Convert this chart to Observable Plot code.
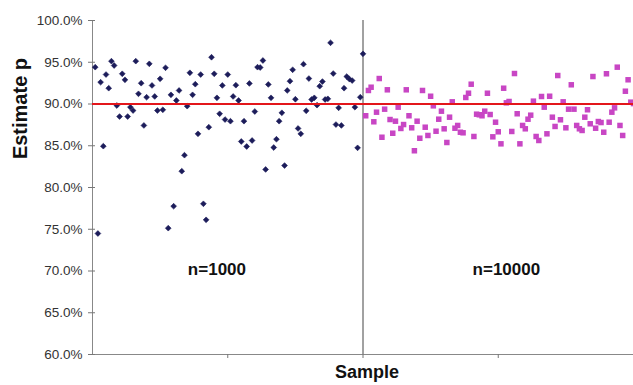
<!DOCTYPE html>
<html><head><meta charset="utf-8">
<script src="https://cdn.jsdelivr.net/npm/d3@7"></script>
<script src="https://cdn.jsdelivr.net/npm/@observablehq/plot@0.6"></script>
<style>body{margin:0;background:#fff}</style>
</head><body><div id="chart"></div>
<script>
const n1000 = [
94.41, 74.49, 92.61, 84.95, 93.53, 91.89, 95.13, 94.61, 89.82, 88.50,
93.62, 92.90, 88.50, 89.62, 89.22, 95.13, 91.22, 92.49, 87.43, 90.81,
94.81, 92.22, 90.90, 89.22, 93.02, 89.31, 94.34, 75.13, 91.10, 77.76,
90.42, 91.62, 81.95, 83.87, 89.74, 93.74, 91.10, 92.37, 86.43, 93.53,
78.05, 76.13, 87.22, 95.60, 93.62, 90.74, 88.83, 92.22, 88.14, 93.53,
87.94, 90.90, 92.25, 90.42, 85.51, 87.94, 84.91, 92.46, 85.63, 89.10,
94.41, 94.37, 95.21, 82.16, 92.34, 90.74, 84.79, 85.78, 87.94, 88.95,
82.63, 91.62, 92.73, 94.10, 90.57, 87.07, 86.43, 94.77, 89.19, 93.05,
90.54, 90.74, 89.86, 92.13, 92.69, 90.54, 90.62, 97.33, 93.65, 87.54,
89.54, 87.43, 91.89, 93.29, 92.97, 92.81, 89.62, 84.75, 90.81, 96.01];
const n10000 = [
88.59, 91.62, 92.01, 87.87, 89.02, 93.05, 86.02, 89.38, 91.70, 88.14,
86.50, 87.94, 89.62, 87.07, 87.54, 91.70, 88.59, 87.15, 84.40, 87.94,
85.90, 91.62, 87.22, 86.23, 90.93, 89.78, 86.74, 88.18, 89.14, 87.03,
85.39, 88.42, 90.26, 87.10, 87.43, 86.62, 86.55, 90.78, 91.29, 92.37,
86.11, 88.78, 88.71, 88.59, 89.14, 91.29, 88.74, 86.07, 87.82, 86.67,
85.23, 91.89, 90.14, 90.30, 86.71, 93.65, 88.83, 85.23, 87.43, 87.03,
88.18, 88.66, 90.34, 86.11, 85.63, 90.90, 89.62, 86.43, 90.93, 88.42,
87.31, 93.41, 88.11, 90.26, 87.15, 89.38, 92.30, 89.38, 87.43, 87.03,
86.83, 88.42, 89.31, 87.63, 93.29, 87.10, 87.90, 87.78, 86.62, 93.62,
87.82, 89.02, 89.54, 94.41, 87.43, 86.23, 91.53, 92.90, 90.22, 90.05];
const trueP = 90;
const splitSample = 100;
const yTicks = [60, 65, 70, 75, 80, 85, 90, 95, 100];
const xTicks = [50, 100, 150, 200];
const groupLabels = ["n=1000", "n=10000"];
const xLabel = "Sample";
const yLabel = "Estimate p";

const font = "'Liberation Sans', Arial, sans-serif";
const chart = Plot.plot({
  width: 633, height: 385,
  marginLeft: 92, marginRight: 0, marginTop: 20, marginBottom: 31,
  x: {domain: [0, 200]},
  y: {domain: [60, 100]},
  style: {fontFamily: font, background: "#fff", overflow: "visible"},
  marks: [
    Plot.ruleX([0], {stroke: "#888"}),
    Plot.ruleY([60], {stroke: "#888"}),
    Plot.ruleX([splitSample], {stroke: "#444"}),
    Plot.axisY(yTicks, {tickSize: 7, dx: 3, tickPadding: 6, tickFormat: d => d.toFixed(1) + "%",
      fontSize: 13.5, color: "#333", stroke: "#777", label: null}),
    Plot.axisX(xTicks, {tickSize: 4, tickFormat: () => "", stroke: "#777", label: null}),
    Plot.dot(n1000, {x: (d, i) => i + 1, y: d => d, symbol: "diamond2", r: 2.6, fill: "#1c1c5a", stroke: "#1c1c5a", strokeWidth: 0.6}),
    Plot.dot(n10000, {x: (d, i) => i + 101, y: d => d, symbol: "square", r: 3.1, fill: "#c846c4", stroke: "none"}),
    Plot.ruleY([trueP], {stroke: "#e3161b", strokeWidth: 2}),
    Plot.text(groupLabels, {x: (d, i) => i === 0 ? 46 : 153, y: 70.2, text: d => d,
      fontWeight: "bold", fontSize: 17, fill: "#111"}),
    Plot.text([xLabel], {frameAnchor: "bottom", dy: 23.5, dx: 4, text: d => d,
      fontWeight: "bold", fontSize: 18, fill: "#111"}),
    Plot.text([yLabel], {frameAnchor: "left", y: 83.4, dx: -72, rotate: -90, text: d => d,
      fontWeight: "bold", fontSize: 20, fill: "#111"})
  ]
});
document.getElementById("chart").appendChild(chart);
</script>
</body></html>
